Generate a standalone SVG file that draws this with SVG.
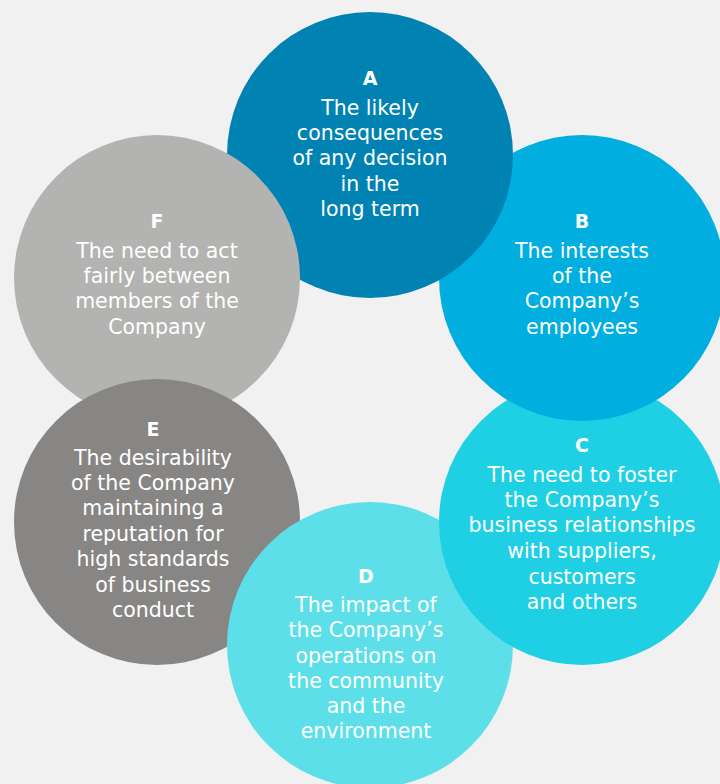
<svg xmlns="http://www.w3.org/2000/svg" width="720" height="784" viewBox="0 0 720 784">
  <style>
    .t { font-family: "DejaVu Sans", "Liberation Sans", sans-serif; font-size: 20.5px; fill: #ffffff; text-anchor: middle; }
    .h { font-family: "DejaVu Sans", "Liberation Sans", sans-serif; font-size: 19px; font-weight: bold; fill: #ffffff; text-anchor: middle; }
  </style>
  <defs>
    <circle id="cA" cx="370" cy="155" r="143"/>
    <circle id="cF" cx="157" cy="278" r="143"/>
    <clipPath id="clipA"><circle cx="370" cy="155" r="145"/></clipPath>
  </defs>
  <rect width="720" height="784" fill="#f1f1f1"/>

  <!-- circles stacked so each one sits over the next around the ring -->
  <g id="node-F">
    <use href="#cF" fill="#b3b3b1"/>
    <text class="h" x="157" y="228">F</text>
    <text class="t" x="157" y="258">The need to act</text>
    <text class="t" x="157" y="283">fairly between</text>
    <text class="t" x="157" y="308">members of the</text>
    <text class="t" x="157" y="334">Company</text>
  </g>
  <g id="node-E">
    <circle cx="157" cy="522" r="143" fill="#878685"/>
    <text class="h" x="153" y="436">E</text>
    <text class="t" x="153" y="465">The desirability</text>
    <text class="t" x="153" y="490">of the Company</text>
    <text class="t" x="153" y="515">maintaining a</text>
    <text class="t" x="153" y="541">reputation for</text>
    <text class="t" x="153" y="566">high standards</text>
    <text class="t" x="153" y="592">of business</text>
    <text class="t" x="153" y="617">conduct</text>
  </g>
  <g id="node-D">
    <circle cx="370" cy="645" r="143" fill="#5ddfea"/>
    <text class="h" x="366" y="583">D</text>
    <text class="t" x="366" y="612">The impact of</text>
    <text class="t" x="366" y="637">the Company’s</text>
    <text class="t" x="366" y="663">operations on</text>
    <text class="t" x="366" y="688">the community</text>
    <text class="t" x="366" y="713">and the</text>
    <text class="t" x="366" y="738">environment</text>
  </g>
  <g id="node-C">
    <circle cx="582" cy="522" r="143" fill="#1fd0e4"/>
    <text class="h" x="582" y="452">C</text>
    <text class="t" x="582" y="482">The need to foster</text>
    <text class="t" x="582" y="507">the Company’s</text>
    <text class="t" x="582" y="532">business relationships</text>
    <text class="t" x="582" y="558">with suppliers,</text>
    <text class="t" x="582" y="584">customers</text>
    <text class="t" x="582" y="609">and others</text>
  </g>
  <g id="node-B">
    <circle cx="582" cy="278" r="143" fill="#00aedf"/>
    <text class="h" x="582" y="228">B</text>
    <text class="t" x="582" y="258">The interests</text>
    <text class="t" x="582" y="283">of the</text>
    <text class="t" x="582" y="308">Company’s</text>
    <text class="t" x="582" y="334">employees</text>
  </g>
  <g id="node-A">
    <use href="#cA" fill="#0083b3"/>
    <text class="h" x="370" y="85">A</text>
    <text class="t" x="370" y="115">The likely</text>
    <text class="t" x="370" y="140">consequences</text>
    <text class="t" x="370" y="165">of any decision</text>
    <text class="t" x="370" y="191">in the</text>
    <text class="t" x="370" y="216">long term</text>
  </g>
  <!-- F closes the ring by lying over A -->
  <g id="overlap-F-A" clip-path="url(#clipA)">
    <use href="#cF" fill="#b3b3b1"/>
  </g>
</svg>
